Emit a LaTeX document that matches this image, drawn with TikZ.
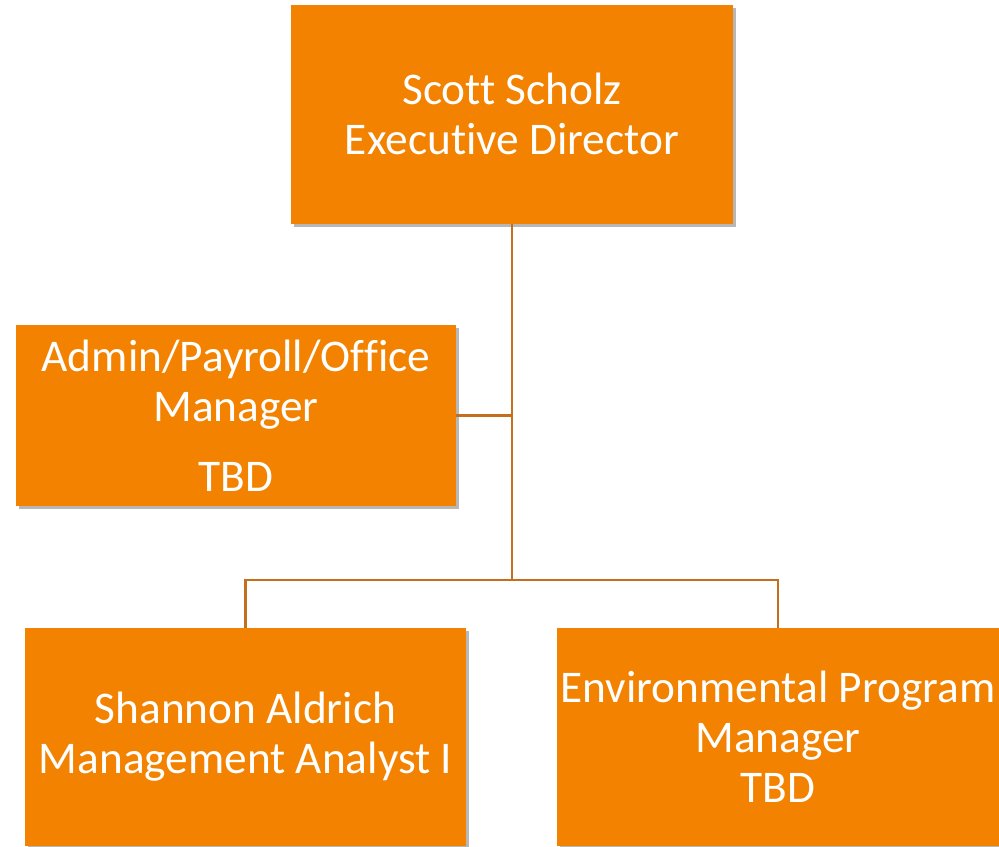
\documentclass[tikz,border=0pt]{standalone}
\usepackage{fontspec}
\setmainfont{Carlito}[Ligatures=NoCommon]
\usepackage{tikz}
\usetikzlibrary{positioning,shadows}
\definecolor{boxorange}{HTML}{F28200}
\definecolor{linkbrown}{HTML}{C46F1E}

\begin{document}
\begin{tikzpicture}[x=0.75pt,y=-0.75pt,
  unit/.style={rectangle,fill=boxorange,text=white,align=center,
    font=\fontsize{34}{37.5}\selectfont,inner sep=0pt,
    drop shadow={shadow xshift=2.5pt,shadow yshift=-2.5pt,opacity=0.4,fill=black!70}},
  link/.style={draw=linkbrown,line width=2.2pt}]
\useasboundingbox (0,0) rectangle (999,846);
\node[unit,minimum width=331.5pt,minimum height=164.25pt] (director) at (512,114) {Scott Scholz\\Executive Director};
\node[unit,minimum width=330pt,minimum height=135.75pt] (admin) at (236,415.5) {Admin/Payroll/Office\\Manager\\[15pt]TBD};
\node[unit,minimum width=330.75pt,minimum height=163.5pt] (analyst) at (245.5,737) {Shannon Aldrich\\Management Analyst I};
\node[unit,minimum width=331.5pt,minimum height=163.5pt] (envmgr) at (778,737) {Environmental Program\\Manager\\TBD};
\coordinate (split) at (512,580);
\draw[link] (director.south) -- (split);
\draw[link] (admin.east) -- (admin.east -| split);
\draw[link] (analyst.north) |- (split) -| (envmgr.north);
\end{tikzpicture}
\end{document}
